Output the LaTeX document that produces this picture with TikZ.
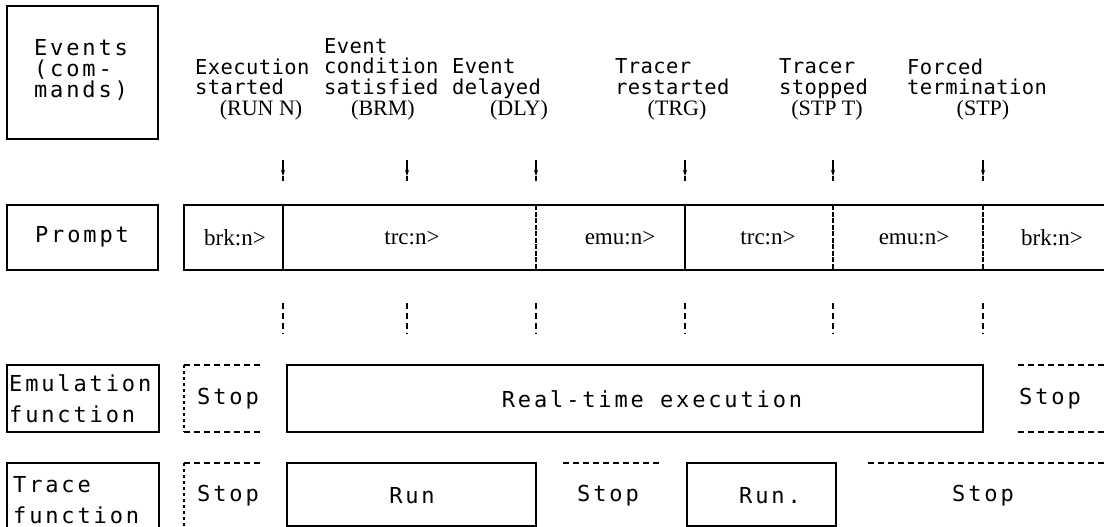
\documentclass[tikz,border=0pt]{standalone}
\usepackage{fontspec}
\setmainfont{Liberation Serif}
\newfontfamily\headfont[LetterSpace=2]{DejaVu Sans Mono}
\newfontfamily\widefont[LetterSpace=13]{DejaVu Sans Mono}
\usepackage{tikz}
\usetikzlibrary{arrows.meta,positioning}

\begin{document}
\begin{tikzpicture}[x=1pt,y=-1pt,
  box/.style={draw,line width=2.4pt},
  divider/.style={line width=1.7pt},
  brokendiv/.style={line width=1.5pt,dash pattern=on 5pt off 1.5pt},
  stopline/.style={line width=1.6pt,dash pattern=on 6pt off 4pt},
  stopside/.style={line width=1.8pt,dash pattern=on 3pt off 3pt},
  vdash/.style={line width=1.5pt,dash pattern=on 6pt off 4pt},
  evarrow/.style={line width=1.3pt,-{Stealth[length=6pt,width=4pt]}},
  headtxt/.style={font=\fontsize{20.5}{20.5}\selectfont\headfont,align=left,
    anchor=north west,inner sep=0pt},
  cmdtxt/.style={font=\fontsize{22}{22}\selectfont,inner sep=0pt},
  prmtxt/.style={font=\fontsize{23}{26}\selectfont,inner sep=0pt},
  rowtxt/.style={font=\fontsize{22}{21}\selectfont\widefont,align=left,inner sep=0pt},
  wiretxt/.style={font=\fontsize{22}{31}\selectfont\widefont,align=left,
    anchor=west,inner sep=0pt}]
  \useasboundingbox (0,0) rectangle (1104,527);
  \clip (0,0) rectangle (1104,527);

  % row titles
  \draw[box] (7,6) rectangle (158,139);
  \node[rowtxt] (events) at (81,70) {Events\\(com-\\mands)};
  \draw[box] (7,205) rectangle (158,270);
  \node[rowtxt] (prompt) at (82,237) {Prompt};
  \draw[box] (7,365) rectangle (159,432);
  \node[wiretxt] (emulation) at (9,399) {Emulation\\function};
  \draw[box] (7,463) rectangle (159,530);
  \node[wiretxt] (tracefn) at (13,500) {Trace\\function};

  % events and their commands
  \node[headtxt] (run)  at (195,58.5) {Execution\\started};
  \node[headtxt] (brm)  at (324,38) {Event\\condition\\satisfied};
  \node[headtxt] (dly)  at (452,58.5) {Event\\delayed};
  \node[headtxt] (trg)  at (615,58.5) {Tracer\\restarted};
  \node[headtxt] (stpt) at (779,58.5) {Tracer\\stopped};
  \node[headtxt] (stp)  at (907,58.5) {Forced\\termination};
  \node[cmdtxt] (runc)  at (261,110) {(RUN N)};
  \node[cmdtxt] (brmc)  at (383,110) {(BRM)};
  \node[cmdtxt] (dlyc)  at (519,110) {(DLY)};
  \node[cmdtxt] (trgc)  at (677,110) {(TRG)};
  \node[cmdtxt] (stptc) at (827,110) {(STP T)};
  \node[cmdtxt] (stpc)  at (983,110) {(STP)};

  % event markers above and below the prompt bar
  \foreach \x [count=\i] in {283,407,536,685,833,983} {
    \coordinate (t\i) at (\x,160);
    \coordinate (m\i) at (\x,176);
    \coordinate (b\i) at (\x,181);
    \draw[evarrow] (t\i) -- (m\i);
    \draw[line width=1.3pt] (m\i) -- (b\i);
    \coordinate (d\i) at (\x,303);
    \coordinate (e\i) at (\x,334);
    \draw[vdash] (d\i) -- (e\i);
  }

  % prompt bar
  \draw[box] (1110,205) -- (184,205) -- (184,270) -- (1110,270);
  \foreach \x in {283,685} \draw[divider] (\x,205) -- (\x,270);
  \foreach \x in {536,833,983} \draw[brokendiv] (\x,205) -- (\x,270);
  \node[prmtxt] (p1) at (235,238) {brk:n>};
  \node[prmtxt] (p2) at (412,238) {trc:n>};
  \node[prmtxt] (p3) at (620,238) {emu:n>};
  \node[prmtxt] (p4) at (768,238) {trc:n>};
  \node[prmtxt] (p5) at (914,238) {emu:n>};
  \node[prmtxt] (p6) at (1052,238) {brk:n>};

  % emulation function
  \draw[stopside] (184,365) -- (184,432);
  \draw[stopline] (184,365) -- (261,365);
  \draw[stopline] (184,432) -- (261,432);
  \node[rowtxt] (es1) at (228,399) {Stop};
  \draw[box] (287,365) rectangle (983,432);
  \node[rowtxt] (rte) at (652,399) {Real-time execution};
  \draw[stopline] (1018,365) -- (1104,365);
  \draw[stopline] (1018,432) -- (1104,432);
  \node[rowtxt] (es2) at (1050,399) {Stop};

  % trace function
  \draw[stopside] (184,463) -- (184,530);
  \draw[stopline] (184,463) -- (261,463);
  \node[rowtxt] (ts1) at (228,496) {Stop};
  \draw[box] (287,463) rectangle (536,526);
  \node[rowtxt] (tr1) at (412,496) {Run};
  \draw[stopline] (563,463) -- (659,463);
  \node[rowtxt] (ts2) at (608,496) {Stop};
  \draw[box] (687,463) rectangle (836,526);
  \node[rowtxt] (tr2) at (770,496) {Run.};
  \draw[stopline] (868,463) -- (1104,463);
  \node[rowtxt] (ts3) at (983,496) {Stop};
\end{tikzpicture}
\end{document}
